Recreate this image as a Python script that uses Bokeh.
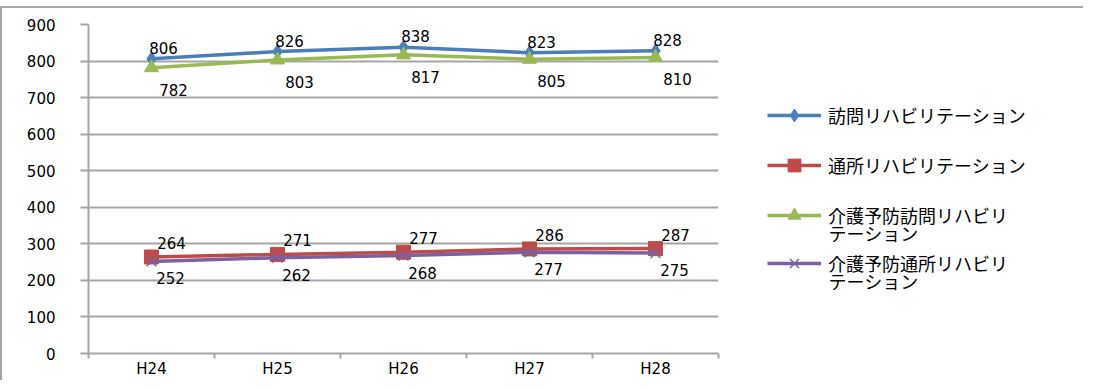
from bokeh.plotting import figure
from bokeh.layouts import row
from bokeh.models import (ColumnDataSource, FixedTicker, Legend, LegendItem, Range1d,
                          LabelSet, Label)
from bokeh.core.properties import value
from bokeh.embed import file_html
from bokeh.resources import INLINE

categories = ["H24", "H25", "H26", "H27", "H28"]
houmon = [806, 826, 838, 823, 828]
tsusho = [264, 271, 277, 286, 287]
yobo_houmon = [782, 803, 817, 805, 810]
yobo_tsusho = [252, 262, 268, 277, 275]
names = [["訪問リハビリテーション"], ["通所リハビリテーション"],
         ["介護予防訪問リハビリ", "テーション"], ["介護予防通所リハビリ", "テーション"]]
y_ticks = list(range(0, 901, 100))

NUM_FONT = "DejaVu Sans"
JP_FONT = "Noto Sans CJK JP"
GRAY = "#a6a6a6"
H = 372

xs = [i + 0.5 for i in range(len(categories))]

p = figure(width=726, height=H, output_backend="svg", toolbar_location=None,
           x_range=Range1d(0, len(categories)), y_range=Range1d(0, 900),
           min_border_left=86, min_border_right=10, min_border_top=16, min_border_bottom=26)
p.outline_line_color = None
p.background_fill_color = "white"
p.border_fill_color = "white"

# axes
p.xaxis.ticker = FixedTicker(ticks=xs, minor_ticks=list(range(len(categories) + 1)))
p.xaxis.major_label_overrides = {x: c for x, c in zip(xs, categories)}
p.xaxis.major_tick_out = 0
p.xaxis.major_tick_in = 0
p.xaxis.minor_tick_out = 5
p.xaxis.minor_tick_in = 0
p.xaxis.minor_tick_line_color = GRAY
p.xaxis.minor_tick_line_width = 2
p.xaxis.axis_line_color = GRAY
p.xaxis.axis_line_width = 2
p.xaxis.major_label_standoff = 1
p.xaxis.major_label_text_font = NUM_FONT
p.xaxis.major_label_text_font_size = "15px"
p.xaxis.major_label_text_color = "black"

p.yaxis.ticker = FixedTicker(ticks=y_ticks)
p.yaxis.minor_tick_line_color = None
p.yaxis.major_tick_out = 8
p.yaxis.major_tick_in = 0
p.yaxis.major_tick_line_color = GRAY
p.yaxis.major_tick_line_width = 2
p.yaxis.axis_line_color = GRAY
p.yaxis.axis_line_width = 2
p.yaxis.major_label_standoff = 25
p.yaxis.major_label_text_font = NUM_FONT
p.yaxis.major_label_text_font_size = "15px"
p.yaxis.major_label_text_color = "black"

p.xgrid.grid_line_color = None
p.ygrid.ticker = FixedTicker(ticks=y_ticks)
p.ygrid.grid_line_color = GRAY
p.ygrid.grid_line_width = 2

# legend figure (right side); its ranges keep the series out of view
q = figure(width=355, height=H, output_backend="svg", toolbar_location=None,
           x_axis_type=None, y_axis_type=None,
           x_range=Range1d(-2, -1), y_range=Range1d(-2, -1),
           min_border_left=0, min_border_right=0, min_border_top=0, min_border_bottom=0)
q.outline_line_color = None
q.grid.visible = False
q.background_fill_color = "white"
q.border_fill_color = "white"

series = [
    (houmon, "#4a7ebb", "diamond", 14, (12, -11)),
    (tsusho, "#be4b48", "square", 14, (20, -14)),
    (yobo_houmon, "#98b954", "triangle", 14, (22, 22)),
    (yobo_tsusho, "#7d60a0", "x", 14, (19, 17)),
]
legend_centers = [116, 166, 216, 264]   # page y of legend rows
ORIGIN = -18
LX = 46

for (vals, color, marker, size, off), name, c in zip(series, names, legend_centers):
    src = ColumnDataSource(dict(x=xs, y=vals, t=[str(v) for v in vals]))
    p.line("x", "y", source=src, line_color=color, line_width=3.5)
    p.scatter("x", "y", source=src, marker=marker, size=size,
              fill_color=color, line_color=color, line_width=1.5 if marker == "x" else 1)
    labels = LabelSet(x="x", y="y", text="t", source=src, x_offset=off[0], y_offset=-off[1],
                      text_align="center", text_baseline="middle",
                      text_font=value(NUM_FONT), text_font_size=value("15px"),
                      text_color="black")
    p.add_layout(labels)

    # legend sample glyphs (same data, outside q's visible ranges)
    lq = q.line("x", "y", source=src, line_color=color, line_width=3.5)
    sq = q.scatter("x", "y", source=src, marker=marker, size=size,
                   fill_color=color, line_color=color, line_width=1.5 if marker == "x" else 1)
    gh = 32
    leg = Legend(items=[LegendItem(label=name[0], renderers=[lq, sq], index=0)],
                 location=(LX - 7, H - (c - ORIGIN) - gh / 2),
                 glyph_width=54, glyph_height=gh, label_height=gh,
                 padding=0, margin=0, border_line_color=None, background_fill_alpha=0,
                 label_text_font=JP_FONT, label_text_font_size="18px",
                 label_standoff=7, label_text_color="black")
    q.add_layout(leg, "center")
    for k, extra in enumerate(name[1:], start=1):
        q.add_layout(Label(x=LX + 54, y=H - (c + 17.5 * k - ORIGIN), x_units="screen",
                           y_units="screen", text=extra, text_baseline="middle",
                           text_font=JP_FONT, text_font_size="18px", text_color="black"))

layout = row(p, q)
layout.styles = {"border-top": f"2px solid {GRAY}", "border-left": f"2px solid {GRAY}",
                 "margin-top": "6px"}

open("out.html", "w").write(file_html(layout, INLINE))
